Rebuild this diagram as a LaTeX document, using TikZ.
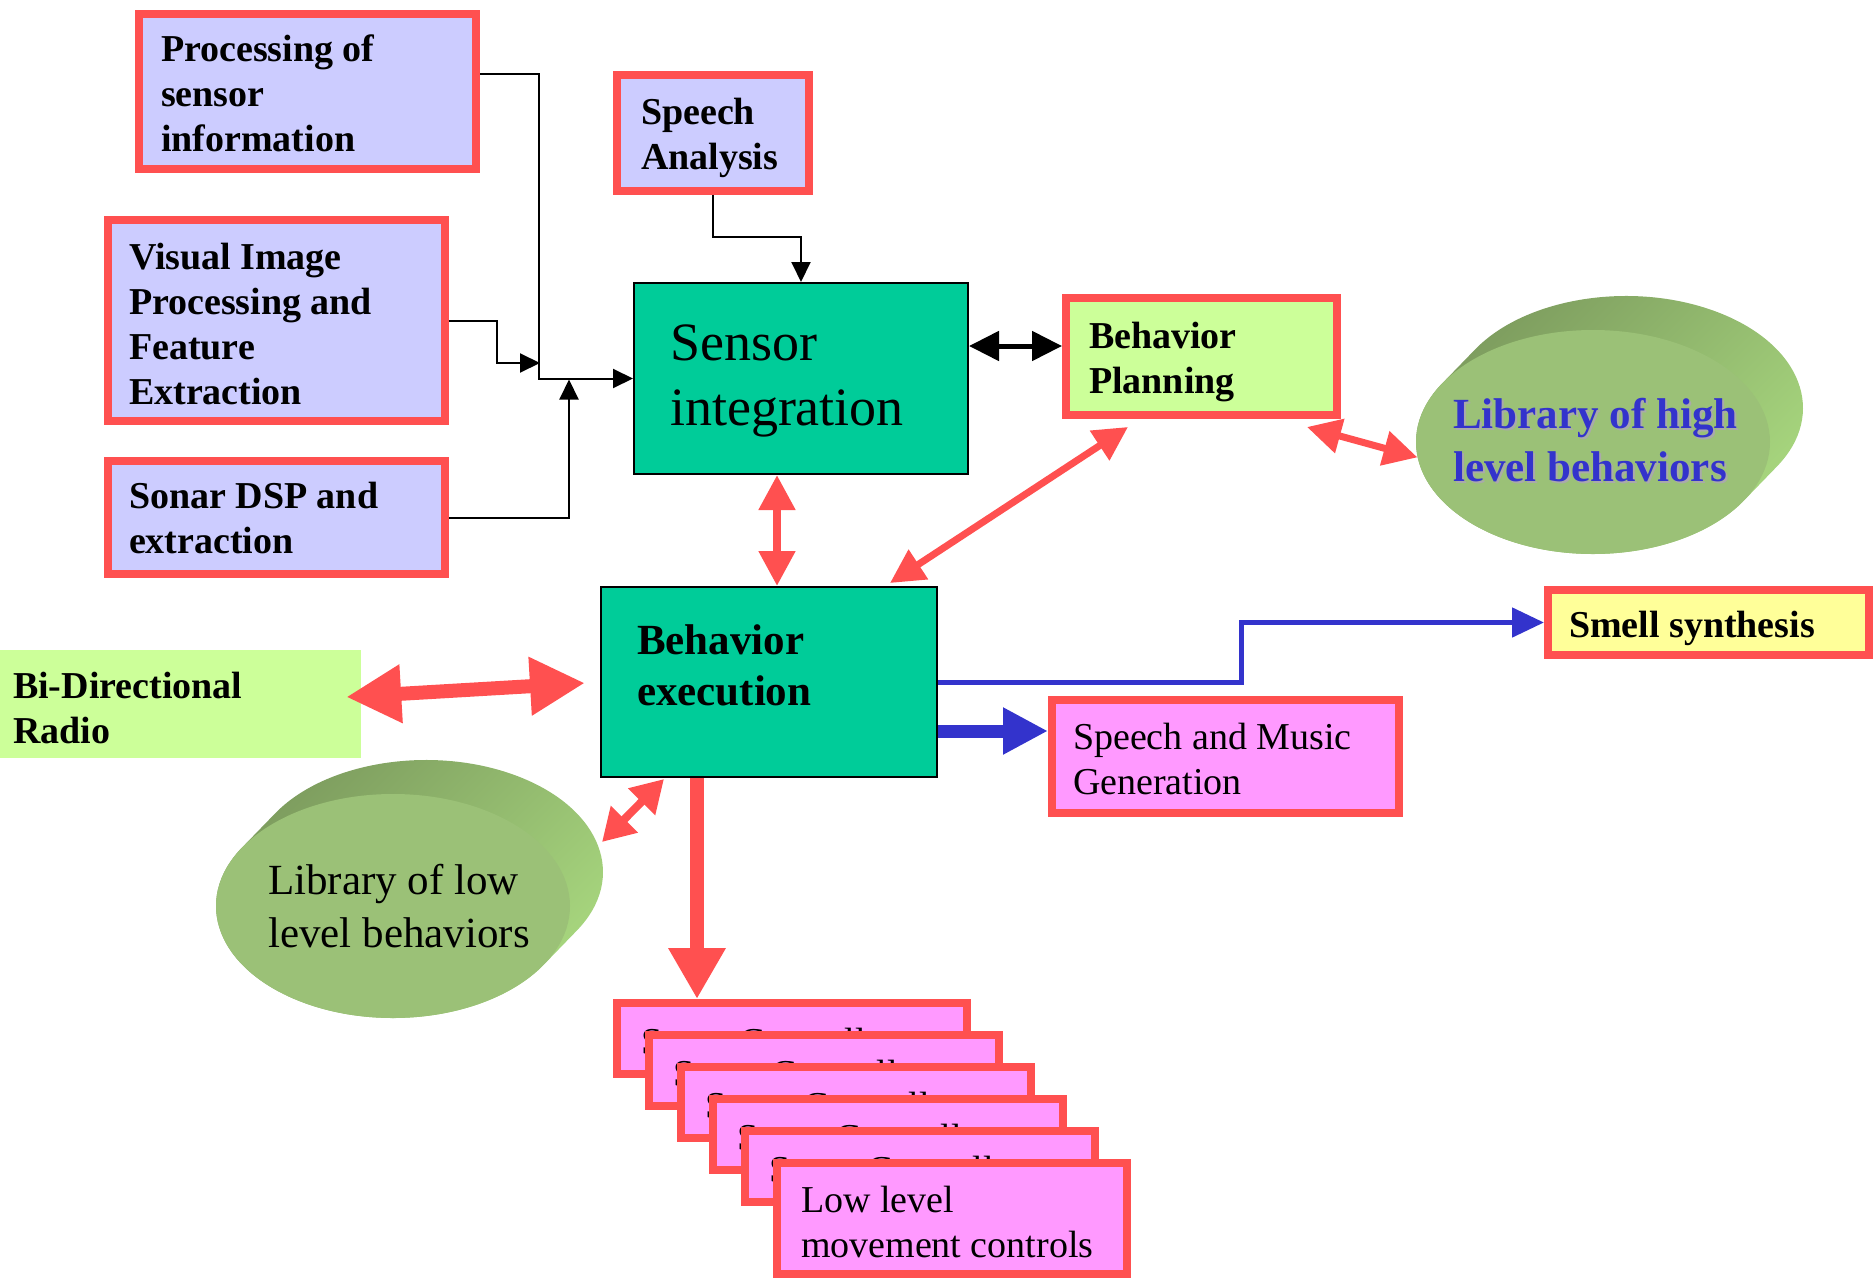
\documentclass[tikz,border=0pt]{standalone}
\usepackage{fontspec}
\setmainfont{Liberation Serif}
\usetikzlibrary{arrows.meta,calc,shapes.geometric}

\definecolor{edgeRed}{RGB}{255,80,80}
\definecolor{paleLav}{RGB}{204,204,255}
\definecolor{seaGreen}{RGB}{0,204,153}
\definecolor{paleLime}{RGB}{204,255,153}
\definecolor{paleYellow}{RGB}{255,255,153}
\definecolor{pinkFill}{RGB}{255,153,255}
\definecolor{flowBlue}{RGB}{51,51,204}
\definecolor{libFront}{RGB}{155,193,119}
\definecolor{libDark}{RGB}{122,152,92}
\definecolor{libLight}{RGB}{170,218,128}
\definecolor{shadowGrey}{RGB}{170,170,170}

% invisible strut that sets the height of a first text line
\newcommand{\lineheight}[1]{\rule{0pt}{#1pt}}

\begin{document}
\begin{tikzpicture}[x=1pt,y=-1pt,
  every node/.style={inner ysep=0pt},
  dims/.style n args={4}{minimum width=#1pt, minimum height=#2pt, text width=#3pt, inner xsep=#4pt},
  redbox/.style={draw=edgeRed, line width=8pt, align=flush left},
  tealbox/.style={draw=black, line width=2pt, fill=seaGreen, align=flush left},
  lab/.style={font=\fontsize{38}{45}\selectfont},
  blab/.style={font=\fontsize{38}{45}\selectfont\bfseries},
  libfront/.style={ellipse, fill=libFront, minimum width=354pt, minimum height=224pt, inner sep=0pt},
  libside/.style={top color=libDark, bottom color=libLight, shading angle=45},
  thinlink/.style={draw=black, line width=2pt, -{Triangle[length=20pt,width=19pt]}},
  boldlink/.style={draw=black, line width=5pt, {Triangle[length=30pt,width=29pt]}-{Triangle[length=30pt,width=29pt]}},
  redtwo/.style n args={3}{draw=edgeRed, line width=#1pt, >={Triangle[length=#2pt,width=#3pt]}, <->},
  redone/.style n args={3}{draw=edgeRed, line width=#1pt, >={Triangle[length=#2pt,width=#3pt]}, ->},
  bluelink/.style n args={3}{draw=flowBlue, line width=#1pt, -{Triangle[length=#2pt,width=#3pt]}},
]
\useasboundingbox (0,0) rectangle (1875,1279);

% ---- extruded library discs ----
\coordinate (hiC) at (1593,442);
\shade[libside] ($(hiC)+(183.8,24.6)$)
  arc[start angle=31.55, end angle=-148.45, x radius=177, y radius=112]
  -- ($(hiC)+(-150.8,-58.6)$)
  arc[start angle=211.55, end angle=31.55, x radius=177, y radius=112] -- cycle;
\node[libfront] (hilib) at (hiC) {};
\node[font=\fontsize{43}{53}\selectfont\bfseries, text=shadowGrey, align=left, anchor=west, inner sep=0pt]
  (hishadow) at (1455,442) {Library of high\\level behaviors};
\node[font=\fontsize{43}{53}\selectfont\bfseries, text=flowBlue, align=left, anchor=west, inner sep=0pt]
  (hitext) at (1453,440) {Library of high\\level behaviors};

\coordinate (loC) at (393,906);
\shade[libside] ($(loC)+(183.8,24.6)$)
  arc[start angle=31.55, end angle=-148.45, x radius=177, y radius=112]
  -- ($(loC)+(-150.8,-58.6)$)
  arc[start angle=211.55, end angle=31.55, x radius=177, y radius=112] -- cycle;
\node[libfront] (lolib) at (loC) {};
\node[font=\fontsize{43}{53}\selectfont, align=left, anchor=west, inner sep=0pt]
  (lotext) at (268,906) {Library of low\\level behaviors};

% ---- sensor side ----
\node[redbox, fill=paleLav, blab, dims={337}{155}{293}{22}] (proc) at (307.5,91.5) {\lineheight{30}Processing of\\sensor\\information};
\node[redbox, fill=paleLav, blab, dims={192}{116}{144}{24}] (speech) at (713,133) {\lineheight{36}Speech\\Analysis};
\node[redbox, fill=paleLav, blab, dims={337}{201}{295}{21}] (vis) at (276.5,320.5) {\lineheight{33}Visual Image\\Processing and\\Feature\\Extraction};
\node[redbox, fill=paleLav, blab, dims={337}{113}{295}{21}] (sonar) at (276.5,517.5) {Sonar DSP and\\extraction};
\node[tealbox, font=\fontsize{54}{65}\selectfont, dims={334}{191}{262}{36}] (sensor) at (801,378.5) {\lineheight{41}Sensor\\integration};

% ---- planning and execution ----
\node[redbox, fill=paleLime, blab, dims={271}{117}{225}{23}] (plan) at (1201.5,356.5) {\lineheight{38}Behavior\\Planning};
\node[tealbox, font=\fontsize{43}{51}\selectfont\bfseries, dims={336}{190}{264}{36}] (exec) at (769,682) {Behavior\\execution\rule[-33pt]{0pt}{0pt}};
\node[fill=paleLime, blab, align=flush left, dims={361}{108}{335}{13}] (radio) at (180.5,704) {\lineheight{34}Bi-Directional\\Radio};
\node[redbox, fill=paleYellow, blab, dims={321}{65}{279}{21}] (smell) at (1708.5,622.5) {\lineheight{38}Smell synthesis};
\node[redbox, fill=pinkFill, lab, dims={347}{113}{305}{21}] (music) at (1225.5,756.5) {\lineheight{31}Speech and Music\\Generation};

% ---- stack of servo controllers ----
\foreach \i in {0,...,4}
  \node[redbox, fill=pinkFill, lab, dims={350}{71}{302}{24}] (servo\i) at (792+32*\i,1038.5+32*\i) {\lineheight{33}Servo Controller};
\node[redbox, fill=pinkFill, lab, dims={350}{111}{302}{24}] (low) at (952,1218.5) {\lineheight{33}Low level\\movement controls};

% ---- thin sensor wiring ----
\coordinate (jA) at (539,74);
\coordinate (jC) at (540,363);
\coordinate (jD) at (569,379.5);
\draw[thinlink] (proc.east |- jA) -| (sensor.west -| jA) -- (sensor.west);
\draw[thinlink] (vis.east) -- ++(48,0) |- (jC);
\draw[thinlink] (sonar.east) -| (jD);
\draw[thinlink] (speech.south) -- ++(0,42) -| (sensor.north);

% ---- sensor integration <-> planning ----
\coordinate (jE) at (1000,346);
\draw[boldlink] (sensor.east |- jE) -- (plan.west |- jE);

% ---- red links ----
\coordinate (r1a) at ($(sensor.south)+(-24,0)$);
\draw[redtwo={8}{35}{35}] (r1a) -- (r1a |- exec.north);
\draw[redtwo={7}{34}{34}] ($(plan.south west)+(66,8)$) -- ($(exec.north east)+(-48,-3)$);
\draw[redtwo={7}{34}{34}] ($(plan.south east)+(-34,8)$) -- (hilib.185);
\draw[redtwo={14}{55}{55}] ($(radio.east)+(-15,-7)$) -- ($(exec.west)+(-15,1)$);
\draw[redtwo={8}{32}{36}] ($(exec.south west)+(64,1)$) -- ($(lolib.center)+(209,-64)$);
\draw[redone={14}{51}{54}] ($(servo0.north |- exec.south)+(-95,0)$) -- ($(servo0.north)+(-95,0)$);

% ---- blue outputs ----
\draw[bluelink={5}{32}{29}] (exec.east) -- ++(303,0) |- (smell.west);
\coordinate (mIn) at ($(music.west)+(0,-25.5)$);
\draw[bluelink={13}{45}{44}] (exec.east |- mIn) -- (mIn);
\end{tikzpicture}
\end{document}
